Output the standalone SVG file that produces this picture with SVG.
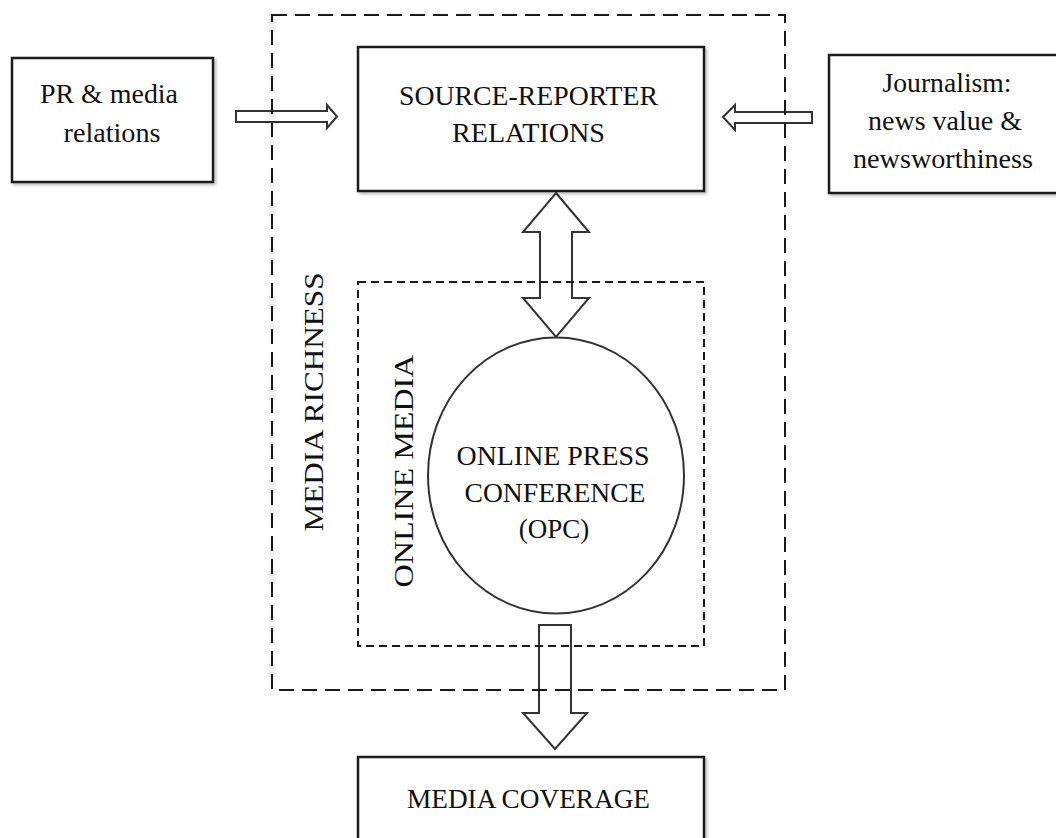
<svg xmlns="http://www.w3.org/2000/svg" width="1056" height="838" viewBox="0 0 1056 838">
<style>
.box{fill:#fff;stroke:#1a1a1a;stroke-width:2.5}
.arrow{fill:#fff;stroke:#333;stroke-width:2;stroke-linejoin:miter}
.outer{fill:none;stroke:#1a1a1a;stroke-width:2;stroke-dasharray:15 8}
.inner{fill:none;stroke:#1a1a1a;stroke-width:2;stroke-dasharray:8 5}
.t{font-family:"Liberation Serif","Times New Roman",serif;font-size:27px;fill:#111;text-anchor:middle}
</style>
<defs>
<filter id="sh" x="-5%" y="-5%" width="115%" height="115%">
<feDropShadow dx="2" dy="2" stdDeviation="1.5" flood-color="#000" flood-opacity="0.25"/>
</filter>
</defs>
<rect width="1056" height="838" fill="#fff"/>

<g id="connectors">
<polygon class="arrow" points="236,111 327,111 327,105 337,116.5 327,128 327,122 236,122"/>
<polygon class="arrow" points="812,112 735,112 735,105 723,117 735,130 735,123 812,123"/>
<polygon class="arrow" points="556,193 589,232 572,232 572,298 589,298 556,337 523,298 540,298 540,232 523,232"/>
<polygon class="arrow" points="539,625 571,625 571,713 587,713 555,749 523,713 539,713"/>
</g>

<g id="media-richness">
<rect class="outer" x="272" y="15" width="513" height="675"/>
<text class="t" transform="translate(323,402) rotate(-90)" textLength="259" lengthAdjust="spacingAndGlyphs">MEDIA RICHNESS</text>
</g>

<g id="online-media">
<rect class="inner" x="358" y="282" width="346" height="364"/>
<text class="t" transform="translate(413,471) rotate(-90)" textLength="233" lengthAdjust="spacingAndGlyphs">ONLINE MEDIA</text>
</g>

<g id="pr-media">
<rect class="box" x="12" y="58" width="201" height="124" filter="url(#sh)"/>
<text class="t" x="109" y="103" textLength="138" lengthAdjust="spacingAndGlyphs">PR &amp; media</text>
<text class="t" x="112" y="142" textLength="97" lengthAdjust="spacingAndGlyphs">relations</text>
</g>

<g id="source-reporter">
<rect class="box" x="358" y="47" width="346" height="144" filter="url(#sh)"/>
<text class="t" x="528.5" y="105" textLength="259" lengthAdjust="spacingAndGlyphs">SOURCE-REPORTER</text>
<text class="t" x="528.5" y="142" textLength="153" lengthAdjust="spacingAndGlyphs">RELATIONS</text>
</g>

<g id="journalism">
<rect class="box" x="829" y="55" width="240" height="138" filter="url(#sh)"/>
<text class="t" x="947" y="92" textLength="129" lengthAdjust="spacingAndGlyphs">Journalism:</text>
<text class="t" x="945" y="130" textLength="154" lengthAdjust="spacingAndGlyphs">news value &amp;</text>
<text class="t" x="943" y="168" textLength="180" lengthAdjust="spacingAndGlyphs">newsworthiness</text>
</g>

<g id="opc">
<ellipse cx="556" cy="475.5" rx="128" ry="138" fill="none" stroke="#333" stroke-width="2"/>
<text class="t" x="553" y="465" textLength="193" lengthAdjust="spacingAndGlyphs">ONLINE PRESS</text>
<text class="t" x="555" y="502" textLength="181" lengthAdjust="spacingAndGlyphs">CONFERENCE</text>
<text class="t" x="554" y="538">(OPC)</text>
</g>

<g id="media-coverage">
<rect class="box" x="358" y="757" width="346" height="84" filter="url(#sh)"/>
<text class="t" x="528.5" y="808" textLength="243" lengthAdjust="spacingAndGlyphs">MEDIA COVERAGE</text>
</g>
</svg>
